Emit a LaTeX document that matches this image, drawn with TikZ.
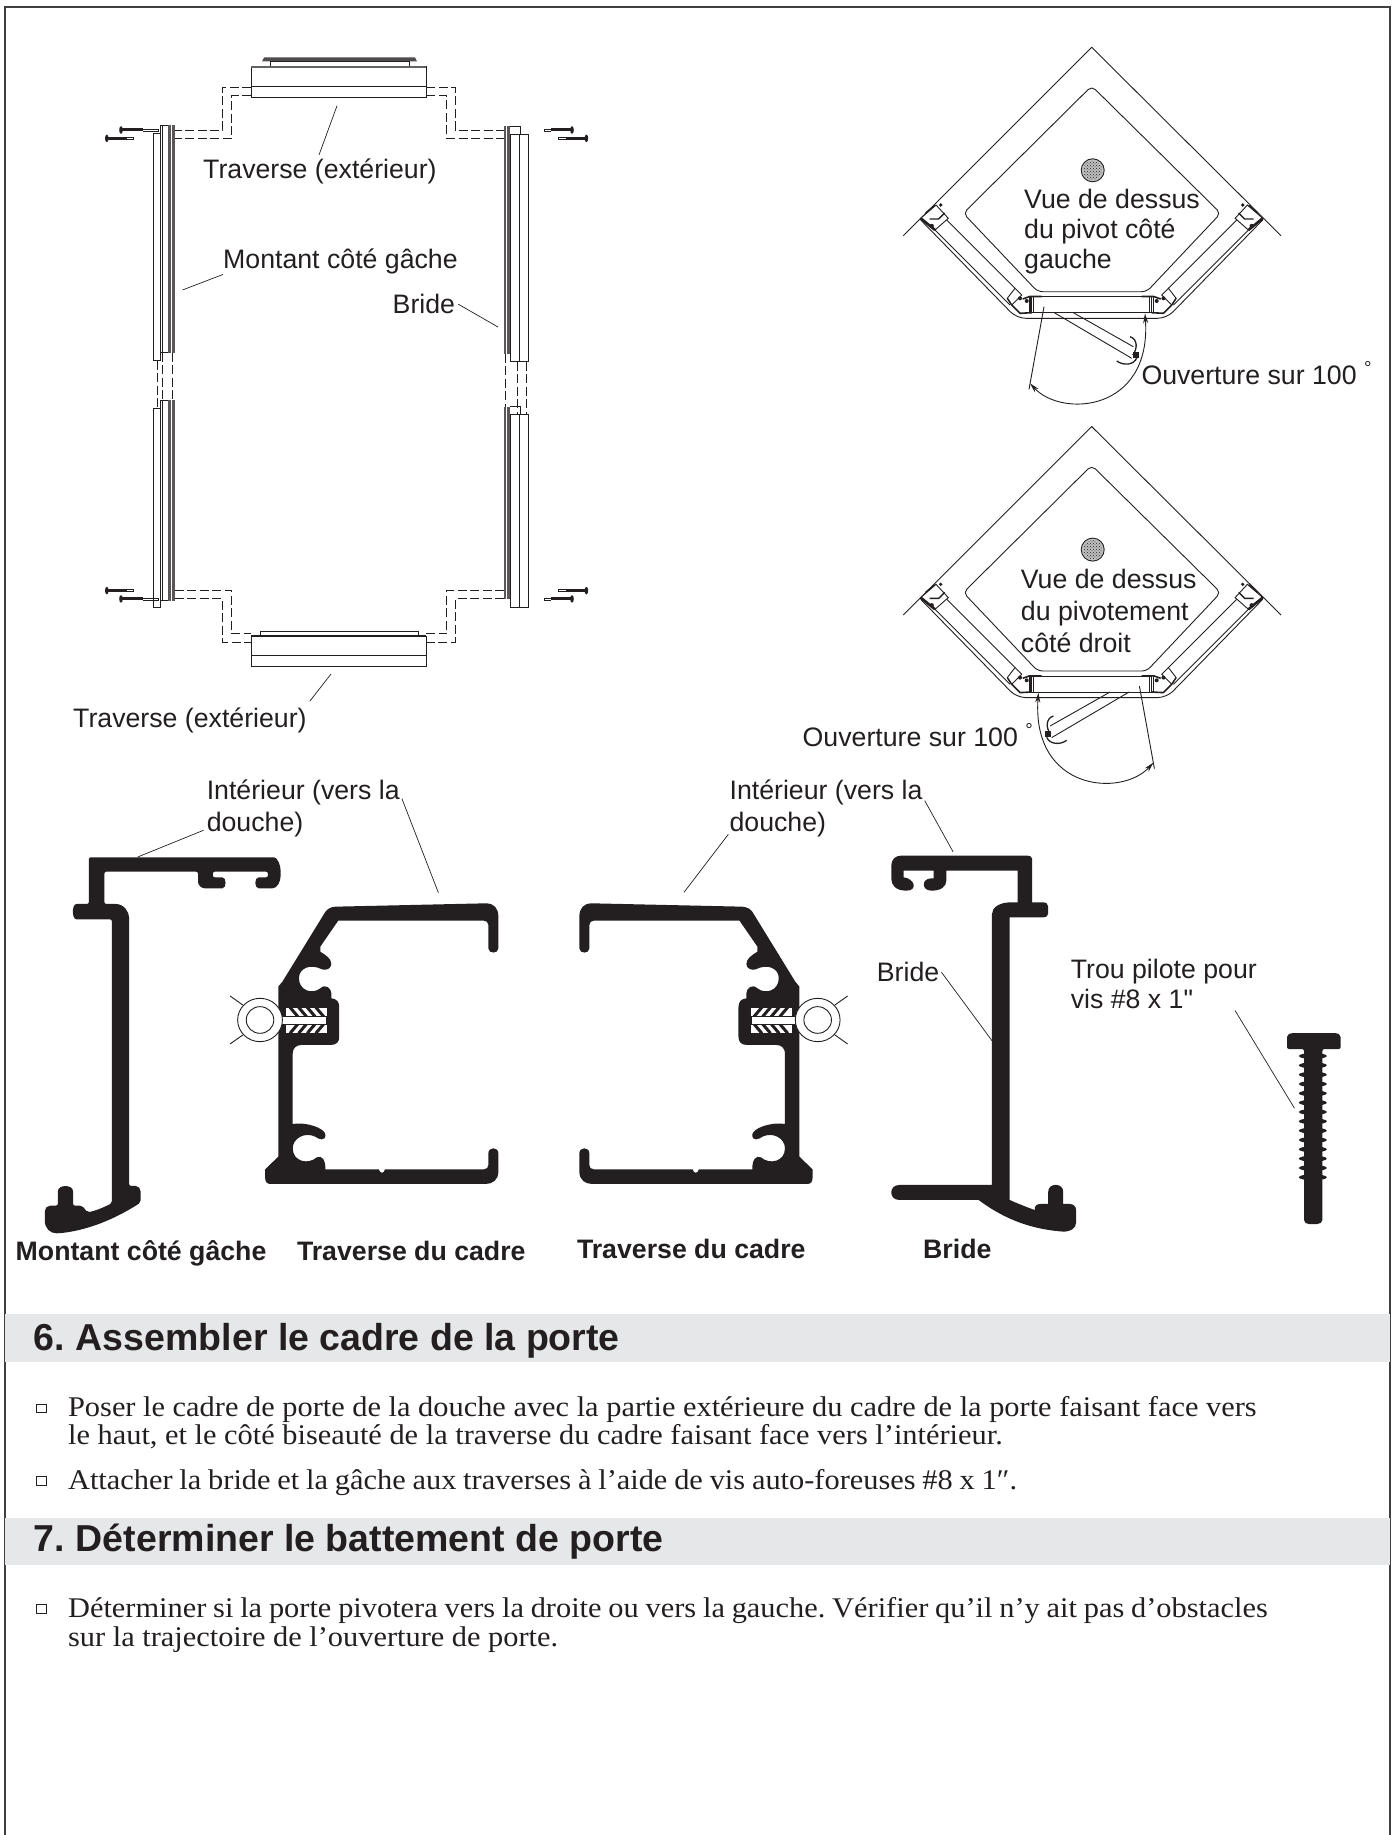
\documentclass[tikz,border=0pt]{standalone}
\usepackage{fontspec}
\setmainfont[FakeStretch=1.066]{Liberation Serif}
\setsansfont[Ligatures=TeXOff]{Liberation Sans}
\usetikzlibrary{arrows.meta,patterns}
\definecolor{inkblack}{HTML}{231F20}
\definecolor{bandgray}{HTML}{E6E7E8}
\newcommand{\labelfont}{\sffamily\fontsize{26.7}{30}\selectfont}
\newcommand{\tightwords}{\spaceskip=6.8pt\relax}
\tikzset{
	>={Stealth[length=10pt,width=5pt]},
	part/.style={draw=inkblack, fill=white, line width=.9pt},
	thinline/.style={draw=inkblack, line width=.9pt},
	leader/.style={draw=inkblack, line width=.7pt},
	dashline/.style={draw=inkblack, line width=.9pt, dash pattern=on 9pt off 3.5pt},
	solidpart/.style={fill=inkblack},
	lbl/.style={anchor=base west, inner sep=0pt, text=inkblack, font=\labelfont},
	lblbold/.style={lbl, font=\labelfont\bfseries},
	sectionband/.style={anchor=north west, fill=bandgray, inner sep=0pt, minimum width=1384.7pt, minimum height=47.7pt},
	heading/.style={anchor=base west, inner sep=0pt, text=inkblack, font=\sffamily\bfseries\fontsize{37.5}{40}\selectfont},
	bodytext/.style={anchor=base west, inner sep=0pt, text=inkblack, font=\fontsize{28.5}{28.3}\selectfont\frenchspacing},
	bulletbox/.style={draw=inkblack, line width=.8pt, inner sep=0pt, minimum width=10pt, minimum height=8.5pt},
}
% one of the two corner plans: #1 is the shift down, #2 the side of the door
\newcommand{\cornerview}[2]{
	\begin{scope}[shift={(1091.7,#1)}]
		\draw[thinline] (-188.4,235.7) -- (0,47.3) -- (189.3,235.7);
		\draw[thinline, rounded corners=5pt] (0,86) -- (129,213.3) -- (55,291.7) -- (-54,291.7) -- (-128.4,213.3) -- cycle;
		\draw[thinline, rounded corners=9pt] (-171,220) -- (-75,318.3) -- (75,318.3) -- (171,220);
		\draw[part, fill=black!25] (1,170.3) circle [radius=11.5];
		\fill[pattern=crosshatch dots, pattern color=inkblack] (1,170.3) circle [radius=9.5];
		\draw[thinline] (-60,296.7) rectangle (60,312.7);
		\foreach \m in {1,-1}{
			\begin{scope}[xscale=\m]
				\draw[thinline] (-156.7,230) -- (-81.7,305);
				\draw[thinline] (-145,220) -- (-76.7,288.3);
				\draw[part] (-155.7,205) -- (-143.4,218.3) -- (-156.7,230) -- (-171,218.3) -- cycle;
				\draw[inkblack, line width=2.6pt] (-171,218.3) -- (-156.7,230);
				\draw[inkblack, line width=1.5pt] (-166,213) -- (-157,205.5);
				\draw[inkblack, line width=1.4pt] (-162,219) -- (-153,219) -- (-147,213);
				\fill[inkblack] (-151,205) circle [radius=1.8];
				\fill[inkblack] (-160,226) circle [radius=2.2];
				\draw[part] (-76.7,288.3) -- (-70,295) -- (-80,305) -- (-84.4,298.3) -- cycle;
				\draw[inkblack, line width=1.4pt] (-84.4,298.3) -- (-80,305);
				\fill[inkblack] (-71.7,298.3) circle [radius=2];
				\fill[inkblack] (-65,301) circle [radius=2];
				\draw[inkblack, line width=1.6pt] (-80,305) -- (-71.7,313.3) -- (-60,312.7);
				\draw[inkblack, line width=1.6pt] (-69,299) -- (-62,296.5) -- (-50,296.5);
				\draw[inkblack, line width=1.8pt] (-61.7,297) -- (-61.7,313);
				\draw[thinline] (-58,297) -- (-58,313);
			\end{scope}
		}
		\begin{scope}[xscale=#2]
			\draw[thinline] (-37.4,312.7) -- (40,358.3);
			\draw[thinline] (-18.4,312.7) -- (41.6,346.7);
			\draw[inkblack, line width=1.3pt] (38.3,336.7) .. controls (46,339) and (46,349) .. (41,355);
			\draw[inkblack, line width=1.3pt] (25,361) .. controls (32,366) and (42,365) .. (45,358);
			\fill[inkblack] (41,352) rectangle (47,358);
			\draw[thinline] (-47.7,306.7) -- (-62.7,389.3);
			\draw[thinline, <->] (-61.7,383.3) .. controls (-30,418) and (60,412) .. (53.3,313.3);
		\end{scope}
	\end{scope}
}
\begin{document}
\begin{tikzpicture}[x=1pt,y=-1pt]
	\useasboundingbox (0,0) rectangle (1392,1835);
	\fill[white] (0,0) rectangle (1392,1835);
	\draw[black!75, line width=1.7pt] (5,1835) -- (5,6.7) -- (1389.7,6.7) -- (1389.7,1835);

	% door frame seen from outside
	\fill[inkblack!80] (264,57.5) -- (415,57.5) -- (417,61.5) -- (262,61.5) -- cycle;
	\draw[part] (270,61.5) rectangle (409,66.7);
	\draw[part] (251.4,66.7) rectangle (426.4,97.5);
	\draw[thinline] (251.4,86) -- (426.4,86);
	\fill[inkblack!70] (251.4,66) rectangle (426.4,68.5);
	\draw[part] (251.4,636) rectangle (426.4,666);
	\draw[thinline] (251.4,655.8) -- (426.4,655.8);
	\draw[part] (260.4,631.5) rectangle (418,636);
	\fill[inkblack] (251.4,635) rectangle (426.4,637);

	\draw[dashline] (251.4,87.4) -- (222.9,87.4) -- (222.9,130) -- (160.4,130);
	\draw[dashline] (251.4,95.7) -- (231.8,95.7) -- (231.8,138.4) -- (153.2,138.4);
	\draw[dashline] (426.4,87.4) -- (455,87.4) -- (455,130) -- (510,130);
	\draw[dashline] (426.4,95.7) -- (446.8,95.7) -- (446.8,138.4) -- (510,138.4);
	\draw[dashline] (174.6,590.6) -- (231.8,590.6) -- (231.8,633.8) -- (251.4,633.8);
	\draw[dashline] (174.6,598.9) -- (222.9,598.9) -- (222.9,642) -- (251.4,642);
	\draw[dashline] (504.3,590.6) -- (446.8,590.6) -- (446.8,633.8) -- (426.4,633.8);
	\draw[dashline] (504.3,598.9) -- (455,598.9) -- (455,642) -- (426.4,642);
	\foreach \xx/\ya/\yb in {157.9/360.6/408,162.9/352.8/400,172/352.8/400,505.4/353.7/406.5,517.9/361.5/414.8,526.4/361.5/414.8}{
		\draw[dashline] (\xx,\ya) -- (\xx,\yb);
	}

	\foreach \ya/\yb/\yc/\yd in {133.3/360.6/125.5/352.8,408/607.6/400/600.7}{
		\draw[part] (153.2,\ya) rectangle (160.4,\yb);
		\draw[part] (160.4,\yc) rectangle (174.6,\yd);
		\draw[thinline] (162.9,\yc) -- (162.9,\yd);
		\fill[inkblack!75] (168,\yc) rectangle (174.6,\yd);
		\draw[white, line width=.5pt] (171.5,\yc) -- (171.5,\yd);
	}
	\foreach \ya/\yb/\yc/\yd in {134.7/361.5/126.4/353.7,414.8/607.6/406.5/599}{
		\fill[inkblack!75] (504.3,\yc) rectangle (510.4,\yd);
		\draw[white, line width=.5pt] (506.5,\yc) -- (506.5,\yd);
		\draw[part] (510.4,\ya) rectangle (519.3,\yb);
		\draw[part] (519.3,\ya) rectangle (528.9,\yb);
		\draw[thinline] (510.4,\yc) -- (520,\yc) -- (520,\ya);
	}

	\foreach \hx/\dx/\tx/\yy in {121/142.5/158/130,106.8/127/133.6/138.4,106.8/127/133.6/590.6,121/142.5/158/598.9,572/551/544/130,586.4/565.7/558.6/138.4,586.4/565.7/558.6/590.6,572/551/544/598.9}{
		\draw[inkblack, line width=.7pt] (\dx,\yy-1) -- (\tx,\yy-1) -- (\tx,\yy+1) -- (\dx,\yy+1);
		\draw[inkblack, line width=3pt] (\hx,\yy) -- (\dx,\yy);
		\fill[inkblack] (\hx,\yy) ellipse [x radius=1.8, y radius=3.8];
	}

	\node[lbl] (lblTraverseTop) at (203,179) {Traverse (ext\'erieur)};
	\node[lbl] (lblMontant) at (223,268.7) {Montant c\^ot\'e g\^ache};
	\node[lbl] (lblBride) at (392.5,313.7) {Bride};
	\node[lbl] (lblTraverseBas) at (73,727) {Traverse (ext\'erieur)};
	\coordinate (tipTraverseTop) at (337,105.8);
	\coordinate (endTraverseTop) at (319,155);
	\coordinate (tipMontant) at (182.5,290);
	\coordinate (tipBride) at (498,327);
	\coordinate (tipTraverseBas) at (331,674);
	\draw[leader] (tipTraverseTop) -- (endTraverseTop);
	\draw[leader] (lblMontant.south west) -- (tipMontant);
	\draw[leader] ([xshift=3pt]lblBride.east) -- (tipBride);
	\draw[leader] ([xshift=3pt,yshift=6pt]lblTraverseBas.north east) -- (tipTraverseBas);

	% corner plans
	\cornerview{0}{1}
	\cornerview{379.3}{-1}
	\node[lbl, align=left] (lblVueGauche) at (1024,268.5) {Vue de dessus\\du pivot c\^ot\'e\\gauche};
	\node[lbl, align=left] (lblVueDroit) at (1020.7,652.7) {Vue de dessus\\[2pt]du pivotement\\[2pt]c\^ot\'e droit};
	\node[lbl] (lblOuvertureHaut) at (1141.3,384) {Ouverture sur 100 \textsuperscript{\textdegree}};
	\node[lbl] (lblOuvertureBas) at (802.5,746) {Ouverture sur 100 \textsuperscript{\textdegree}};

	% sections through the profiles
	\begin{scope}[shift={(0,770)},xscale=.3444,yscale=.3333]
		\fill[solidpart, rounded corners=2pt] (258,262) -- (790,262) .. controls (805,262) and (815,285) .. (815,310) .. controls (815,335) and (805,355) .. (785,355) -- (757,355) .. controls (738,355) and (738,322) .. (757,322) -- (778,322) -- (778,305) -- (618,305) -- (618,322) -- (640,322) .. controls (658,322) and (658,355) .. (640,355) -- (600,355) .. controls (585,355) and (575,345) .. (575,330) -- (575,305) -- (303,305) -- (303,402) -- (330,402) .. controls (360,402) and (375,425) .. (375,450) -- (375,1248) -- (400,1248) -- (408,1258) -- (408,1298) .. controls (330,1350) and (250,1382) .. (170,1390) .. controls (145,1390) and (130,1375) .. (130,1345) -- (130,1318) -- (140,1307) -- (168,1307) -- (168,1270) .. controls (168,1243) and (212,1243) .. (212,1270) -- (212,1307) -- (238,1307) -- (254,1327) .. controls (280,1322) and (305,1310) .. (325,1300) -- (325,448) -- (228,448) .. controls (208,448) and (208,402) .. (228,402) -- (258,402) -- cycle;
	\end{scope}
	\foreach \sx/\fx in {0/.3444,1077.7/-.3444}{
		\begin{scope}[shift={(\sx,770)},xscale=\fx,yscale=.3333]
			\fill[solidpart] (975,410) -- (1410,400) .. controls (1435,400) and (1447,415) .. (1447,440) -- (1447,535) .. controls (1447,552) and (1418,552) .. (1418,535) -- (1418,465) .. controls (1418,457) and (1412,452) .. (1405,452) -- (982,452) -- (930,530) -- (930,545) .. controls (945,555) and (962,565) .. (962,582) .. controls (962,597) and (945,602) .. (935,598) .. controls (900,580) and (868,595) .. (868,625) .. controls (868,660) and (905,675) .. (930,655) .. controls (945,640) and (962,655) .. (962,670) -- (962,685) .. controls (978,687) and (985,695) .. (985,712) -- (985,800) .. controls (985,815) and (978,825) .. (960,825) -- (875,825) .. controls (860,825) and (850,835) .. (850,850) -- (850,1062) .. controls (890,1055) and (945,1075) .. (945,1095) .. controls (945,1115) and (925,1108) .. (915,1100) .. controls (885,1085) and (850,1105) .. (850,1135) .. controls (850,1175) and (895,1185) .. (920,1162) .. controls (935,1155) and (945,1170) .. (945,1198) -- (1100,1198) .. controls (1103,1212) and (1115,1212) .. (1118,1198) -- (1405,1198) .. controls (1413,1198) and (1418,1193) .. (1418,1185) -- (1418,1150) .. controls (1418,1130) and (1447,1130) .. (1447,1150) -- (1447,1205) .. controls (1447,1230) and (1430,1242) .. (1410,1242) -- (785,1242) .. controls (775,1242) and (770,1235) .. (770,1225) -- (770,1198) -- (808,1160) -- (808,650) -- (820,635) -- (945,425) .. controls (952,415) and (962,411) .. (975,410) -- cycle;
			\fill[white] (830,714) -- (948,714) -- (948,788) -- (830,788) -- cycle;
			\foreach \hx in {860,885,910,935}{
				\draw[inkblack, line width=3pt] (\hx-18,712) -- (\hx+5,740);
				\draw[inkblack, line width=3pt] (\hx+5,762) -- (\hx-18,790);
			}
			\fill[solidpart] (948,705) rectangle (960,800);
			\draw[part, draw=inkblack] (820,740) -- (948,740) -- (948,762) -- (820,762);
			\draw[thinline] (668,678) -- (705,705);
			\draw[thinline] (668,822) -- (705,795);
			\draw[part] (755,750) circle [radius=65];
			\draw[thinline] (755,750) circle [radius=40];
		\end{scope}
	}
	\begin{scope}[shift={(550,770)},xscale=.5357,yscale=.3333]
		\fill[solidpart] (655,257) -- (890,257) .. controls (896,257) and (900,260) .. (900,266) -- (900,397) -- (920,397) .. controls (926,397) and (930,402) .. (930,410) -- (930,430) .. controls (930,438) and (926,442) .. (920,442) -- (858,442) -- (858,1290) .. controls (872,1300) and (890,1312) .. (905,1320) -- (905,1312) .. controls (905,1306) and (910,1302) .. (917,1302) -- (930,1302) -- (930,1265) .. controls (930,1238) and (958,1238) .. (958,1265) -- (958,1302) -- (970,1302) .. controls (977,1302) and (982,1310) .. (982,1320) -- (982,1358) .. controls (982,1375) and (972,1385) .. (958,1385) .. controls (900,1378) and (850,1350) .. (800,1290) -- (652,1290) .. controls (632,1290) and (632,1245) .. (652,1245) -- (825,1245) -- (825,432) .. controls (825,412) and (840,397) .. (860,397) -- (873,397) -- (873,302) -- (740,302) -- (740,330) .. controls (740,350) and (730,362) .. (712,362) .. controls (693,362) and (693,325) .. (712,325) -- (716,325) -- (716,302) -- (660,302) -- (660,322) .. controls (680,325) and (688,362) .. (665,362) .. controls (645,362) and (637,345) .. (637,325) -- (637,288) .. controls (637,268) and (645,257) .. (655,257) -- cycle;
	\end{scope}

	\fill[solidpart, rounded corners=2pt] (1287,1049) -- (1287,1035) -- (1291,1033) -- (1337,1033) -- (1340.6,1035) -- (1340.6,1049) -- (1322.4,1049) -- (1322.4,1222) -- (1319,1224) -- (1307,1224) -- (1304,1222) -- (1304,1049) -- cycle;
	\foreach \k in {0,...,13}{
		\fill[solidpart] (1312.8,{1056+\k*9.33}) ellipse [x radius=14, y radius=3];
	}

	\node[lbl, align=left] (lblInterieurG) at (206.6,831.5) {Int\'erieur (vers la\\[2pt]douche)};
	\node[lbl, align=left] (lblInterieurD) at (729.4,831.5) {Int\'erieur (vers la\\[2pt]douche)};
	\node[lbl] (lblBrideProfil) at (876.7,981.7) {Bride};
	\node[lbl, align=left] (lblTrou) at (1070.6,1008) {Trou pilote pour\\vis \#8 x 1"};
	\coordinate (tipInterieurGa) at (137.7,857);
	\coordinate (tipInterieurGb) at (438.4,892.7);
	\coordinate (tipInterieurDa) at (684,892.3);
	\coordinate (tipInterieurDb) at (953,851.7);
	\coordinate (tipBrideProfil) at (992,1040.7);
	\coordinate (tipTrou) at (1294.5,1108.3);
	\draw[leader] ([xshift=-3pt,yshift=7pt]lblInterieurG.south west) -- (tipInterieurGa);
	\draw[leader] ([xshift=2pt,yshift=-19pt]lblInterieurG.north east) -- (tipInterieurGb);
	\draw[leader] ([xshift=-1pt,yshift=3pt]lblInterieurD.south west) -- (tipInterieurDa);
	\draw[leader] ([xshift=2pt,yshift=-21pt]lblInterieurD.north east) -- (tipInterieurDb);
	\draw[leader] ([xshift=2pt]lblBrideProfil.east) -- (tipBrideProfil);
	\draw[leader] ([xshift=-22pt,yshift=-2pt]lblTrou.south east) -- (tipTrou);

	\node[lblbold] (capMontant) at (15.5,1260) {Montant c\^ot\'e g\^ache};
	\node[lblbold] (capTraverseG) at (296.8,1260) {Traverse du cadre};
	\node[lblbold] (capTraverseD) at (576.8,1258) {Traverse du cadre};
	\node[lblbold] (capBride) at (923,1258) {Bride};

	% text of the steps
	\node[sectionband] (bandSix) at (5,1314) {};
	\node[heading] (headSix) at (33.5,1350.3) {6.\hspace{-3pt} Assembler le cadre de la porte};
	\node[bulletbox] (boxA) at (41.5,1408.3) {};
	\node[bodytext] (textAa) at (67.9,1416) {Poser le cadre de porte de la douche avec la partie ext\'erieure du cadre de la porte faisant face vers};
	\node[bodytext] (textAb) at (67.9,1444.3) {le haut, et le c\^ot\'e biseaut\'e de la traverse du cadre faisant face vers l’int\'erieur.};
	\node[bulletbox] (boxB) at (41.5,1481) {};
	\node[bodytext] (textB) at (67.9,1489.3) {\tightwords Attacher la bride et la g\^ache aux traverses \`a l’aide de vis auto-foreuses \#8 x 1″.};
	\node[sectionband] (bandSept) at (5,1517.3) {};
	\node[heading] (headSept) at (33.5,1551.7) {7.\hspace{-3pt} D\'eterminer le battement de porte};
	\node[bulletbox] (boxC) at (41.5,1609) {};
	\node[bodytext] (textCa) at (67.9,1617.7) {\tightwords D\'eterminer si la porte pivotera vers la droite ou vers la gauche. V\'erifier qu’il n’y ait pas d’obstacles};
	\node[bodytext] (textCb) at (67.9,1646) {sur la trajectoire de l’ouverture de porte.};
\end{tikzpicture}
\end{document}
